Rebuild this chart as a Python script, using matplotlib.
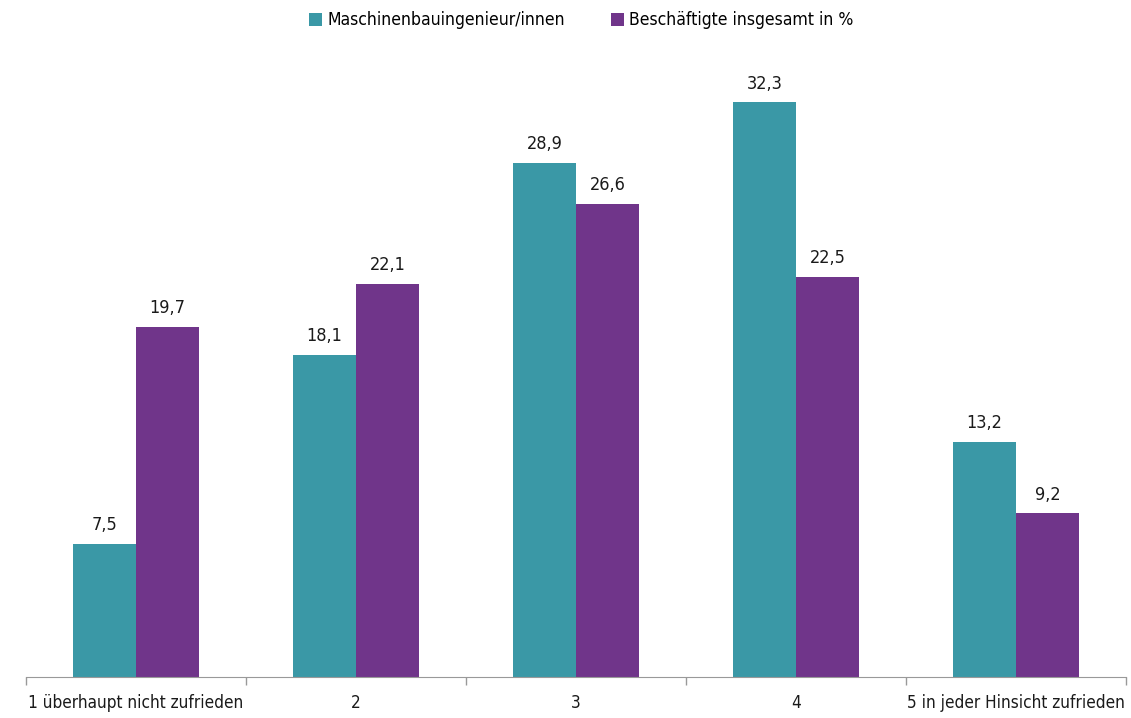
import matplotlib.pyplot as plt
import numpy as np

categories = ['1 überhaupt nicht zufrieden', '2', '3', '4', '5 in jeder Hinsicht zufrieden']
maschinenbau = [7.5, 18.1, 28.9, 32.3, 13.2]
gesamt = [19.7, 22.1, 26.6, 22.5, 9.2]
series_names = ['Maschinenbauingenieur/innen', 'Beschäftigte insgesamt in %']

teal = '#3A98A6'
purple = '#70358A'

plt.rcParams['font.family'] = ['DejaVu Sans']
plt.rcParams['font.stretch'] = 'condensed'

fig = plt.figure(figsize=(11.31, 7.18), dpi=100)
ax = fig.add_axes([0.023, 0.0571, 0.9727, 0.887])

x = np.arange(len(categories))
w = 0.286
b1 = ax.bar(x - w / 2, maschinenbau, w, color=teal, label=series_names[0])
b2 = ax.bar(x + w / 2, gesamt, w, color=purple, label=series_names[1])

for bars, vals in ((b1, maschinenbau), (b2, gesamt)):
    for r, v in zip(bars, vals):
        ax.annotate(f'{v:.1f}'.replace('.', ','), (r.get_x() + r.get_width() / 2, v),
                    xytext=(0, 7), textcoords='offset points', ha='center', va='bottom',
                    fontsize=13, color='#1a1a1a')

ax.set_xlim(-0.5, len(categories) - 0.5)
ax.set_ylim(0, 35.8)
ax.set_xticks(x)
ax.set_xticklabels(categories, fontsize=12.3, color='#1a1a1a')
ax.tick_params(axis='x', which='major', length=0, pad=12)
ax.set_xticks(np.arange(len(categories) + 1) - 0.5, minor=True)
ax.tick_params(axis='x', which='minor', length=6, color='#999999', width=1)
ax.set_yticks([])
for s in ('top', 'right', 'left'):
    ax.spines[s].set_visible(False)
ax.spines['bottom'].set_color('#999999')

fig.legend(handles=[b1, b2], labels=series_names, loc='upper center', bbox_to_anchor=(0.514, 1.006),
           ncol=2, frameon=False, fontsize=12.6, handlelength=0.75, handleheight=0.75,
           handletextpad=0.3, columnspacing=2.6)

fig.savefig('out.png', dpi=100)
